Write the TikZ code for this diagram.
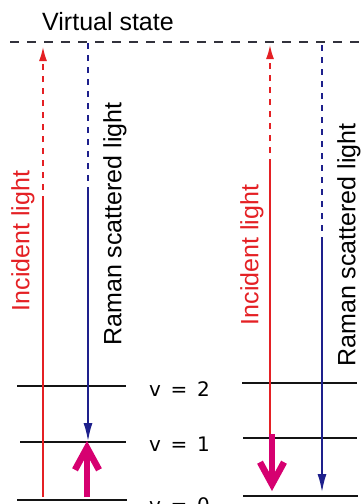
\documentclass[tikz,border=0pt]{standalone}
\usepackage{fontspec}
\setmainfont{Liberation Sans}
\newfontfamily\vfont{DejaVu Sans}
\usetikzlibrary{arrows.meta}
\definecolor{incred}{RGB}{228,32,36}
\definecolor{ramblue}{RGB}{30,32,140}
\definecolor{transmag}{RGB}{214,0,112}
\definecolor{levelblk}{RGB}{20,20,20}
\definecolor{vsgray}{RGB}{50,50,60}
\tikzset{
  level/.style={levelblk, line width=2.4pt},
  incsolid/.style={incred, line width=1.5pt},
  incdash/.style={incred, line width=1.5pt, dash pattern=on 6pt off 6pt, -{Latex[length=14pt,width=8pt]}},
  ramsolid/.style={ramblue, line width=1.5pt, -{Latex[length=18pt,width=9pt]}},
  ramdash/.style={ramblue, line width=1.5pt, dash pattern=on 6pt off 6pt},
  vsline/.style={vsgray, line width=1.4pt, dash pattern=on 9pt off 8pt},
  trans/.style={transmag, line width=6.5pt, -{Straight Barb[length=22pt,width=24pt]}},
  lab/.style={font=\fontsize{25}{28}\selectfont, inner sep=0pt},
  vlab/.style={font=\vfont\fontsize{20}{24}\selectfont, inner sep=0pt, anchor=west},
}
\begin{document}
\begin{tikzpicture}[x=1pt,y=-1pt]
\useasboundingbox (0,0) rectangle (362,504);
% virtual state
\coordinate (vsL) at (10,42);
\coordinate (vsR) at (362,42);
\draw[vsline] (vsL) -- (vsR);
\node[lab] (vstext) at (108,22) {Virtual state};
% left levels
\coordinate (l2a) at (17,386); \coordinate (l2b) at (126,386);
\coordinate (l1a) at (20,442); \coordinate (l1b) at (126,442);
\coordinate (l0a) at (17,500); \coordinate (l0b) at (127,500);
\draw[level] (l2a) -- (l2b);
\draw[level] (l1a) -- (l1b);
\draw[level] (l0a) -- (l0b);
% right levels
\coordinate (r2a) at (242,383); \coordinate (r2b) at (357,383);
\coordinate (r1a) at (243,438); \coordinate (r1b) at (357,438);
\coordinate (r0a) at (243,496); \coordinate (r0b) at (358,496);
\draw[level] (r2a) -- (r2b);
\draw[level] (r1a) -- (r1b);
\draw[level] (r0a) -- (r0b);
% left incident
\coordinate (liB) at (43,497);
\coordinate (liM) at (43,202);
\coordinate (liT) at (43,47);
\draw[incsolid] (liB) -- (liM);
\draw[incdash] (liM) -- (liT);
% left raman
\coordinate (lrT) at (88,43);
\coordinate (lrM) at (88,187);
\coordinate (lrB) at (88,441);
\draw[ramdash] (lrT) -- (lrM);
\draw[ramsolid] (lrM) -- (lrB);
% right incident
\coordinate (riB) at (270,436);
\coordinate (riM) at (270,165);
\coordinate (riT) at (270,45);
\draw[incsolid] (riB) -- (riM);
\draw[incdash] (riM) -- (riT);
% right raman
\coordinate (rrT) at (322,45);
\coordinate (rrM) at (322,240);
\coordinate (rrB) at (322,492);
\draw[ramdash] (rrT) -- (rrM);
\draw[ramsolid] (rrM) -- (rrB);
% transitions
\coordinate (ltS) at (87,497);
\coordinate (ltE) at (87,441);
\draw[trans] (ltS) -- (ltE);
\coordinate (rtS) at (272,434);
\coordinate (rtE) at (272,491);
\draw[trans] (rtS) -- (rtE);
% labels
\node[lab, incred, rotate=90] (linc) at (23,241) {Incident light};
\node[lab, rotate=90] (lram) at (115,224) {Raman scattered light};
\node[lab, incred, rotate=90] (rinc) at (252,255) {Incident light};
\node[lab, rotate=90] (rram) at (349,245) {Raman scattered light};
\node[vlab] (v2) at (149,389) {v\,\ =\ \,2};
\node[vlab] (v1) at (149,444) {v\,\ =\ \,1};
\node[vlab] (v0) at (149,505) {v\,\ =\ \,0};
\end{tikzpicture}
\end{document}
